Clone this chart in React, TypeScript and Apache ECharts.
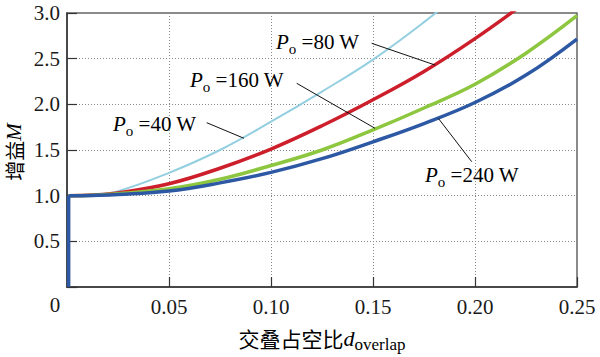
import React, { useEffect, useRef } from "react";
import * as echarts from "echarts";

// duty-cycle samples (x) and gain M for each output power
const dValues = [0.0008, 0.0125, 0.025, 0.05, 0.075, 0.1, 0.125, 0.15, 0.175, 0.2, 0.225, 0.25];
const gain40W = [1.0, 1.012, 1.05, 1.25, 1.5, 1.81, 2.14, 2.49, 2.9, 3.35, null, null];
const gain80W = [1.0, 1.007, 1.03, 1.13, 1.3, 1.51, 1.765, 2.05, 2.36, 2.72, 3.12, null];
const gain160W = [1.0, 1.004, 1.02, 1.075, 1.18, 1.33, 1.5, 1.72, 1.96, 2.22, 2.56, 2.97];
const gain240W = [1.0, 1.003, 1.012, 1.05, 1.14, 1.255, 1.405, 1.59, 1.79, 2.02, 2.32, 2.715];
const startLineD = [0.0008, 0.0008];
const startLineM = [0, 1.0];

const seriesNames = ["40 W", "80 W", "160 W", "240 W"];
const seriesColors = ["#93cfe0", "#cd1f2b", "#8dc63f", "#2c58a4"];
const seriesWidths = [2, 3.5, 3.5, 3.5];

const SERIF = "'Liberation Serif', 'Times New Roman', 'Noto Sans CJK SC', serif";
const CJK = "'Noto Sans CJK SC', 'Liberation Serif', serif";

function pairs(xs: number[], ys: (number | null)[]) {
  const out: number[][] = [];
  xs.forEach((x, i) => {
    const y = ys[i];
    if (y !== null && y !== undefined) out.push([x, y]);
  });
  return out;
}

const richPo = {
  p: { fontFamily: SERIF, fontSize: 21, fontStyle: "italic", lineHeight: 28, color: "#111" },
  s: { fontFamily: SERIF, fontSize: 15, lineHeight: 14, verticalAlign: "bottom", color: "#111" },
  n: { fontFamily: SERIF, fontSize: 21, lineHeight: 28, color: "#111" },
};

function poLabel(power: string, x: number, y: number) {
  return {
    type: "text",
    x,
    y,
    z: 100,
    style: {
      text: `{p|P}{s|o}{n| =${power}}`,
      rich: richPo,
      align: "left",
      verticalAlign: "middle",
    },
  };
}

function leader(x1: number, y1: number, x2: number, y2: number) {
  return {
    type: "line",
    z: 100,
    shape: { x1, y1, x2, y2 },
    style: { stroke: "#111", lineWidth: 1 },
  };
}

export default function App() {
  const ref = useRef<HTMLDivElement>(null);

  useEffect(() => {
    if (!ref.current) return;
    const chart = echarts.init(ref.current, undefined, { renderer: "svg" });
    const allGains = [gain40W, gain80W, gain160W, gain240W];

    const series: any[] = allGains.map((g, i) => ({
      name: seriesNames[i],
      type: "line",
      data: pairs(dValues, g),
      smooth: 0.4,
      showSymbol: false,
      clip: true,
      lineStyle: { color: seriesColors[i], width: seriesWidths[i] },
      z: 10 + i,
    }));
    series.push({
      name: "start",
      type: "line",
      data: pairs(startLineD, startLineM),
      showSymbol: false,
      clip: false,
      lineStyle: { color: seriesColors[3], width: 3.5 },
      z: 20,
    });

    chart.setOption({
      animation: false,
      backgroundColor: "#ffffff",
      grid: {
        left: 67,
        top: 13,
        width: 510,
        height: 274,
        show: true,
        borderColor: "#666",
        borderWidth: 1.5,
        backgroundColor: "transparent",
      },
      xAxis: {
        type: "value",
        min: 0,
        max: 0.25,
        interval: 0.05,
        axisLine: { show: true, lineStyle: { color: "#333", width: 1.5 } },
        axisTick: { show: true, inside: true, length: 10, lineStyle: { color: "#333", width: 1.2 } },
        splitLine: { show: true, lineStyle: { color: "#888", type: [1, 2], width: 1 } },
        axisLabel: {
          formatter: (v: number) => (v === 0 ? "" : v.toFixed(2)),
          fontFamily: SERIF,
          fontSize: 21,
          color: "#1a1a1a",
          margin: 9,
        },
      },
      yAxis: {
        type: "value",
        min: 0,
        max: 3,
        interval: 0.5,
        axisLine: { show: true, lineStyle: { color: "#333", width: 1.5 } },
        axisTick: { show: true, inside: true, length: 10, lineStyle: { color: "#333", width: 1.2 } },
        splitLine: { show: true, lineStyle: { color: "#888", type: [1, 2], width: 1 } },
        axisLabel: {
          formatter: (v: number) => (v === 0 ? "" : v.toFixed(1)),
          fontFamily: SERIF,
          fontSize: 21,
          color: "#1a1a1a",
          margin: 7,
        },
      },
      series,
      graphic: [
        {
          type: "text",
          x: 55,
          y: 305,
          style: {
            text: "0",
            font: `21px ${SERIF}`,
            fill: "#1a1a1a",
            align: "center",
            verticalAlign: "middle",
          },
        },
        {
          type: "text",
          x: 322,
          y: 338,
          style: {
            text: "{c|交叠占空比}{d|d}{s|overlap}",
            align: "center",
            verticalAlign: "middle",
            rich: {
              c: { fontFamily: CJK, fontSize: 21, lineHeight: 30, color: "#111" },
              d: { fontFamily: SERIF, fontSize: 22, fontStyle: "italic", lineHeight: 30, color: "#111" },
              s: { fontFamily: SERIF, fontSize: 17, lineHeight: 16, verticalAlign: "bottom", color: "#111" },
            },
          },
        },
        {
          type: "text",
          x: 14,
          y: 152,
          rotation: Math.PI / 2,
          style: {
            text: "{c|增益}{m|M}",
            align: "center",
            verticalAlign: "middle",
            rich: {
              c: { fontFamily: CJK, fontSize: 20, lineHeight: 24, color: "#111" },
              m: { fontFamily: SERIF, fontSize: 21, fontStyle: "italic", lineHeight: 24, color: "#111" },
            },
          },
        },
        poLabel("40 W", 113, 124),
        leader(206.7, 122.7, 244, 138.3),
        poLabel("80 W", 276, 42),
        leader(371.7, 43.3, 435, 65),
        poLabel("160 W", 190, 80),
        leader(296.7, 83.3, 375, 128.3),
        poLabel("240 W", 425, 175),
        leader(438.3, 118.3, 471.7, 161.7),
      ],
    });

    return () => chart.dispose();
  }, []);

  return <div ref={ref} style={{ width: 600, height: 357, position: "absolute", left: 0, top: 0 }} />;
}
